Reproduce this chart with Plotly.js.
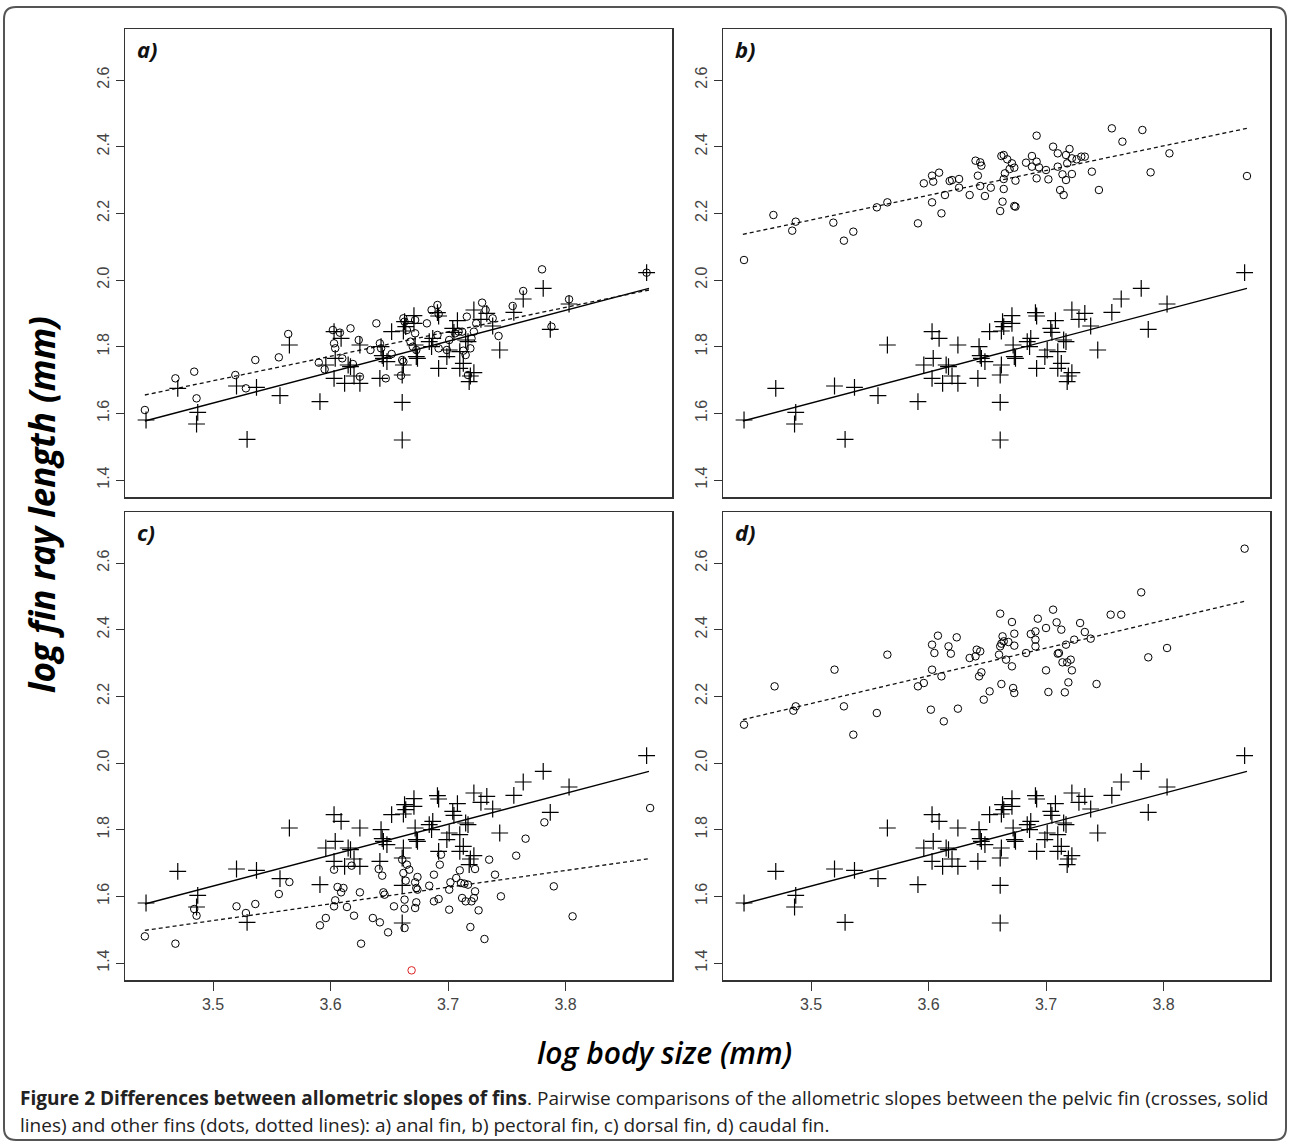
<!DOCTYPE html>
<html>
<head>
<meta charset="utf-8">
<script src="https://cdn.plot.ly/plotly-3.0.1.min.js"></script>
<style>html,body{margin:0;padding:0;background:#fff;}#chart{width:1290px;height:1146px;}</style>
</head>
<body>
<div id="chart"></div>
<script>
// ---- Data ----
// pelvic fin (crosses), identical in all four panels
const pelvicX = [3.443,3.470,3.486,3.487,3.520,3.529,3.537,3.557,3.565,3.591,3.596,3.603,3.604,3.603,3.609,3.612,3.615,3.617,3.620,3.625,3.625,3.642,3.643,3.644,3.645,3.648,3.652,3.661,3.661,3.661,3.662,3.662,3.663,3.664,3.671,3.671,3.672,3.673,3.674,3.684,3.686,3.687,3.691,3.692,3.692,3.699,3.701,3.704,3.705,3.708,3.710,3.710,3.713,3.715,3.717,3.718,3.719,3.722,3.722,3.728,3.733,3.738,3.744,3.756,3.764,3.781,3.787,3.803,3.869];
const pelvicY = [1.580,1.675,1.568,1.603,1.682,1.522,1.678,1.653,1.805,1.635,1.745,1.845,1.765,1.705,1.825,1.690,1.745,1.740,1.712,1.805,1.690,1.705,1.800,1.773,1.765,1.755,1.845,1.520,1.633,1.715,1.745,1.847,1.875,1.860,1.893,1.870,1.805,1.770,1.765,1.815,1.800,1.825,1.902,1.892,1.735,1.770,1.790,1.855,1.843,1.878,1.785,1.735,1.750,1.820,1.815,1.695,1.712,1.722,1.910,1.882,1.900,1.862,1.790,1.903,1.943,1.975,1.852,1.928,2.022];

// a) anal fin (circles)
const analX = [3.442,3.468,3.484,3.486,3.519,3.528,3.536,3.556,3.564,3.590,3.595,3.602,3.603,3.604,3.608,3.610,3.617,3.619,3.624,3.625,3.634,3.639,3.642,3.643,3.647,3.652,3.660,3.661,3.662,3.662,3.663,3.665,3.668,3.670,3.672,3.672,3.673,3.682,3.686,3.691,3.691,3.692,3.692,3.699,3.701,3.706,3.709,3.712,3.713,3.715,3.716,3.717,3.719,3.720,3.722,3.724,3.729,3.732,3.738,3.743,3.755,3.764,3.780,3.788,3.803,3.869];
const analY = [1.610,1.705,1.725,1.645,1.715,1.675,1.760,1.768,1.838,1.752,1.732,1.850,1.810,1.795,1.842,1.765,1.855,1.748,1.820,1.710,1.790,1.870,1.810,1.795,1.705,1.778,1.713,1.760,1.755,1.885,1.875,1.850,1.815,1.800,1.840,1.880,1.790,1.870,1.910,1.925,1.835,1.898,1.795,1.790,1.820,1.840,1.845,1.845,1.788,1.775,1.890,1.715,1.795,1.825,1.845,1.870,1.932,1.910,1.885,1.832,1.922,1.967,2.032,1.860,1.942,2.022];

// b) pectoral fin
const pectoralX = [3.443,3.468,3.484,3.487,3.519,3.528,3.536,3.556,3.565,3.591,3.596,3.603,3.603,3.604,3.609,3.611,3.614,3.618,3.620,3.626,3.626,3.635,3.640,3.642,3.644,3.644,3.645,3.648,3.653,3.661,3.662,3.663,3.664,3.664,3.664,3.665,3.667,3.669,3.671,3.673,3.673,3.674,3.674,3.683,3.688,3.688,3.692,3.692,3.692,3.694,3.700,3.702,3.706,3.710,3.710,3.712,3.714,3.715,3.717,3.717,3.718,3.720,3.722,3.722,3.726,3.730,3.733,3.739,3.745,3.756,3.765,3.782,3.789,3.805,3.871];
const pectoralY = [2.060,2.195,2.148,2.175,2.172,2.118,2.145,2.218,2.233,2.170,2.290,2.233,2.313,2.295,2.322,2.200,2.255,2.297,2.300,2.277,2.303,2.255,2.358,2.313,2.353,2.282,2.343,2.252,2.277,2.207,2.372,2.235,2.375,2.273,2.303,2.320,2.362,2.333,2.350,2.337,2.222,2.220,2.298,2.352,2.372,2.340,2.433,2.305,2.355,2.338,2.330,2.302,2.400,2.380,2.340,2.270,2.317,2.255,2.300,2.375,2.350,2.393,2.318,2.365,2.362,2.370,2.370,2.325,2.270,2.455,2.415,2.450,2.323,2.380,2.312];

// c) dorsal fin
const dorsalX = [3.442,3.468,3.484,3.486,3.520,3.528,3.536,3.556,3.565,3.591,3.596,3.603,3.603,3.604,3.606,3.609,3.611,3.614,3.618,3.620,3.625,3.626,3.636,3.641,3.642,3.644,3.645,3.646,3.649,3.654,3.661,3.662,3.663,3.663,3.663,3.664,3.665,3.667,3.672,3.672,3.673,3.673,3.674,3.674,3.684,3.688,3.688,3.692,3.693,3.694,3.701,3.701,3.702,3.707,3.710,3.711,3.712,3.714,3.715,3.717,3.719,3.720,3.722,3.723,3.723,3.726,3.731,3.735,3.740,3.745,3.758,3.766,3.782,3.790,3.806,3.872];
const dorsalY = [1.480,1.458,1.562,1.542,1.570,1.550,1.577,1.607,1.643,1.513,1.535,1.680,1.570,1.588,1.628,1.612,1.625,1.568,1.692,1.542,1.612,1.458,1.535,1.682,1.522,1.662,1.612,1.605,1.492,1.570,1.710,1.670,1.590,1.563,1.505,1.647,1.695,1.680,1.642,1.565,1.625,1.582,1.658,1.620,1.632,1.665,1.585,1.592,1.695,1.725,1.560,1.620,1.642,1.655,1.678,1.640,1.595,1.638,1.585,1.635,1.508,1.585,1.595,1.615,1.682,1.558,1.472,1.710,1.665,1.600,1.722,1.773,1.822,1.630,1.540,1.865];
// dorsal point drawn in red in the original
const dorsalRedX = [3.669];
const dorsalRedY = [1.378];

// d) caudal fin
const caudalX = [3.443,3.469,3.485,3.487,3.520,3.528,3.536,3.556,3.565,3.591,3.596,3.602,3.603,3.603,3.605,3.608,3.611,3.613,3.617,3.619,3.624,3.625,3.635,3.640,3.641,3.643,3.644,3.645,3.647,3.652,3.660,3.661,3.661,3.662,3.662,3.663,3.664,3.666,3.668,3.671,3.671,3.672,3.673,3.673,3.673,3.683,3.687,3.691,3.691,3.691,3.693,3.700,3.700,3.702,3.706,3.709,3.710,3.711,3.713,3.714,3.716,3.717,3.718,3.719,3.721,3.722,3.724,3.729,3.733,3.738,3.743,3.755,3.764,3.781,3.787,3.803,3.869];
const caudalY = [2.115,2.230,2.157,2.170,2.280,2.170,2.085,2.150,2.325,2.230,2.240,2.160,2.280,2.355,2.330,2.382,2.260,2.125,2.350,2.328,2.377,2.163,2.315,2.320,2.340,2.260,2.335,2.272,2.190,2.215,2.325,2.448,2.350,2.237,2.358,2.380,2.365,2.310,2.363,2.290,2.423,2.225,2.388,2.210,2.352,2.330,2.387,2.395,2.370,2.350,2.433,2.278,2.405,2.213,2.460,2.422,2.328,2.330,2.400,2.302,2.212,2.355,2.302,2.242,2.310,2.278,2.370,2.420,2.393,2.373,2.237,2.445,2.445,2.512,2.317,2.345,2.643];

// fitted allometric lines (end points)
const fitX = [3.442, 3.871];
const pelvicFitY = [1.577, 1.975];
const analFitY = [1.655, 1.970];
const pectoralFitY = [2.137, 2.455];
const dorsalFitY = [1.498, 1.713];
const caudalFitY = [2.130, 2.487];

const panelLabels = ['a)', 'b)', 'c)', 'd)'];
const xTickVals = [3.5, 3.6, 3.7, 3.8];
const yTickVals = [1.4, 1.6, 1.8, 2.0, 2.2, 2.4, 2.6];
const xTitle = 'log body size (mm)';
const yTitle = 'log fin ray length (mm)';
const captionLine1 = '<b>Figure 2 Differences between allometric slopes of fins</b>. Pairwise comparisons of the allometric slopes between the pelvic fin (crosses, solid';
const captionLine2 = 'lines) and other fins (dots, dotted lines): a) anal fin, b) pectoral fin, c) dorsal fin, d) caudal fin.';

// ---- Build figure ----
const W = 1290, H = 1146;
const px = v => v / W, py = v => 1 - v / H;

const others = [
  {x: analX, y: analY, fit: analFitY},
  {x: pectoralX, y: pectoralY, fit: pectoralFitY},
  {x: dorsalX, y: dorsalY, fit: dorsalFitY},
  {x: caudalX, y: caudalY, fit: caudalFitY}
];

const traces = [];
others.forEach((o, i) => {
  const sfx = i === 0 ? '' : String(i + 1);
  const xa = 'x' + sfx, ya = 'y' + sfx;
  traces.push({x: fitX, y: pelvicFitY, xaxis: xa, yaxis: ya, mode: 'lines', type: 'scatter',
    line: {color: '#000', width: 1.4}, hoverinfo: 'skip', showlegend: false});
  traces.push({x: fitX, y: o.fit, xaxis: xa, yaxis: ya, mode: 'lines', type: 'scatter',
    line: {color: '#111', width: 1.3, dash: '4px,3px'}, hoverinfo: 'skip', showlegend: false});
  traces.push({x: pelvicX, y: pelvicY, xaxis: xa, yaxis: ya, mode: 'markers', type: 'scatter',
    marker: {symbol: 'cross-thin-open', size: 12, color: '#000', line: {color: '#111', width: 1.2}}, showlegend: false});
  traces.push({x: o.x, y: o.y, xaxis: xa, yaxis: ya, mode: 'markers', type: 'scatter',
    marker: {symbol: 'circle-open', size: 7.5, color: '#000', line: {color: '#111', width: 1}}, showlegend: false});
});
traces.push({x: dorsalRedX, y: dorsalRedY, xaxis: 'x3', yaxis: 'y3', mode: 'markers', type: 'scatter',
  marker: {symbol: 'circle-open', size: 7.5, color: '#d22', line: {color: '#d22', width: 1}}, showlegend: false});

const xr = [3.4251, 3.8906], yr = [1.349, 2.753];
const colsX = [[125, 672], [723, 1270]];
const rowsY = [[29, 497], [512, 980]];
const tickFont = {family: 'Liberation Sans, Arial, sans-serif', size: 16, color: '#444'};

const layout = {
  width: W, height: H, margin: {l: 0, r: 0, t: 0, b: 0},
  paper_bgcolor: '#fff', plot_bgcolor: '#fff', showlegend: false,
  annotations: [], shapes: []
};

for (let i = 0; i < 4; i++) {
  const sfx = i === 0 ? '' : String(i + 1);
  const c = colsX[i % 2], r = rowsY[Math.floor(i / 2)];
  const bottomRow = i >= 2;
  layout['xaxis' + sfx] = {
    domain: [px(c[0]), px(c[1])], range: xr, anchor: 'y' + sfx,
    showgrid: false, zeroline: false, showline: true, mirror: true, linecolor: '#333', linewidth: 1.5,
    tickmode: 'array', tickvals: xTickVals, ticktext: xTickVals.map(v => v.toFixed(1)),
    ticks: bottomRow ? 'outside' : '', ticklen: 9, tickcolor: '#333', tickwidth: 1,
    showticklabels: bottomRow, tickfont: tickFont
  };
  layout['yaxis' + sfx] = {
    domain: [py(r[1]), py(r[0])], range: yr, anchor: 'x' + sfx,
    showgrid: false, zeroline: false, showline: true, mirror: true, linecolor: '#333', linewidth: 1.5,
    tickmode: 'array', tickvals: yTickVals, ticktext: yTickVals.map(v => v.toFixed(1)),
    ticks: 'outside', ticklen: 8, tickcolor: '#333', tickwidth: 1, tickangle: -90,
    showticklabels: true, tickfont: tickFont
  };
  layout.annotations.push({
    text: '<b><i>' + panelLabels[i] + '</i></b>', xref: 'paper', yref: 'paper',
    x: px(c[0] + 10), y: py(r[0] + 20), xanchor: 'left', yanchor: 'middle', showarrow: false,
    font: {family: 'Open Sans, sans-serif', size: 22, color: '#111'}
  });
}

layout.annotations.push({
  text: '<b><i>' + yTitle + '</i></b>', xref: 'paper', yref: 'paper', x: px(41), y: py(505),
  xanchor: 'center', yanchor: 'middle', textangle: -90, showarrow: false,
  font: {family: 'Open Sans, sans-serif', size: 35, color: '#000'}
});
layout.annotations.push({
  text: '<i>' + xTitle + '</i>', xref: 'paper', yref: 'paper', x: px(664), y: py(1052),
  xanchor: 'center', yanchor: 'middle', showarrow: false,
  font: {family: 'Open Sans, sans-serif', size: 30, color: '#000', weight: 600}
});
layout.annotations.push({
  text: captionLine1, xref: 'paper', yref: 'paper', x: px(18), y: py(1098),
  xanchor: 'left', yanchor: 'middle', showarrow: false,
  font: {family: 'Open Sans, sans-serif', size: 19, color: '#222'}
});
layout.annotations.push({
  text: captionLine2, xref: 'paper', yref: 'paper', x: px(18), y: py(1125),
  xanchor: 'left', yanchor: 'middle', showarrow: false,
  font: {family: 'Open Sans, sans-serif', size: 19, color: '#222'}
});

// outer rounded border
(function () {
  const x0 = 4, x1 = 1286, y0 = 7, y1 = 1140, rr = 12;
  const P = (x, y) => px(x).toFixed(5) + ',' + py(y).toFixed(5);
  const path = 'M ' + P(x0 + rr, y0) + ' L ' + P(x1 - rr, y0) + ' Q ' + P(x1, y0) + ' ' + P(x1, y0 + rr) +
    ' L ' + P(x1, y1 - rr) + ' Q ' + P(x1, y1) + ' ' + P(x1 - rr, y1) +
    ' L ' + P(x0 + rr, y1) + ' Q ' + P(x0, y1) + ' ' + P(x0, y1 - rr) +
    ' L ' + P(x0, y0 + rr) + ' Q ' + P(x0, y0) + ' ' + P(x0 + rr, y0) + ' Z';
  layout.shapes.push({type: 'path', xref: 'paper', yref: 'paper', path: path, line: {color: '#555', width: 2}});
})();

Plotly.newPlot('chart', traces, layout, {staticPlot: true, displayModeBar: false});
</script>
</body>
</html>
